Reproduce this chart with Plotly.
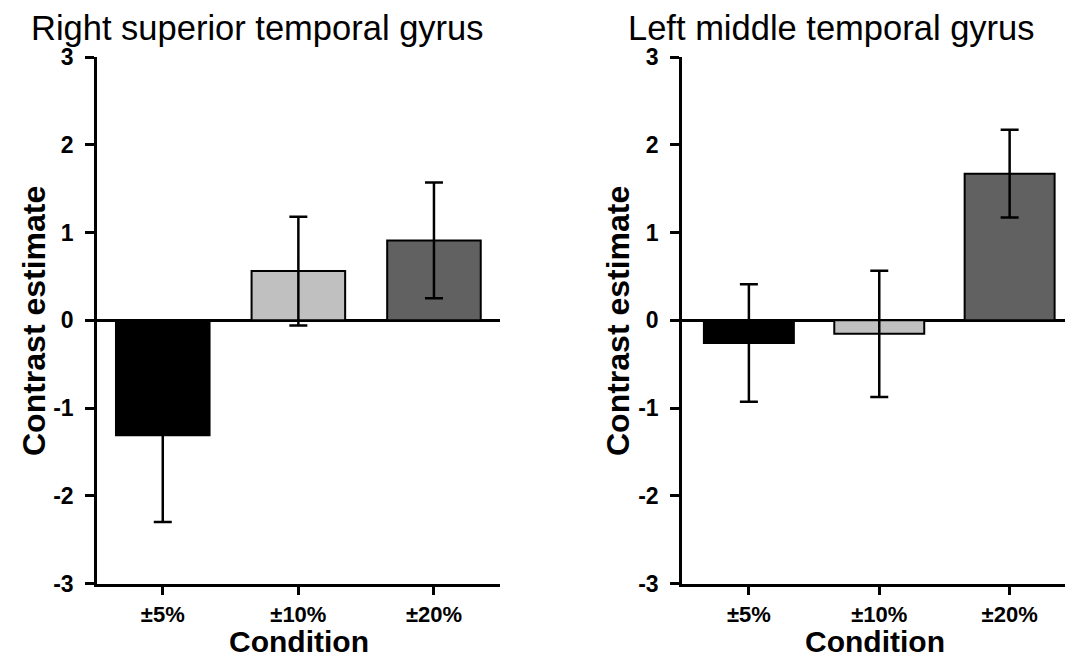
import plotly.graph_objects as go

categories = ["±5%", "±10%", "±20%"]
rstg_means = [-1.31, 0.56, 0.91]
rstg_err = [0.99, 0.62, 0.66]
lmtg_means = [-0.26, -0.155, 1.67]
lmtg_err = [0.67, 0.72, 0.50]
bar_colors = ["#000000", "#c0c0c0", "#616161"]
panel_titles = ["Right superior temporal gyrus", "Left middle temporal gyrus"]
y_ticks = [-3, -2, -1, 0, 1, 2, 3]
y_tick_text = ["-3", "-2", "-1", "0", "1", "2", "3"]

OFF = 8  # page body margin
W, H = 1073 - OFF, 659 - OFF
FONT = "Liberation Sans, Arial, sans-serif"


def px_x(p):
    return (p - OFF) / W


def px_y(p):
    return 1 - (p - OFF) / H


fig = go.Figure()
for i, (means, errs) in enumerate([(rstg_means, rstg_err), (lmtg_means, lmtg_err)]):
    suffix = "" if i == 0 else "2"
    fig.add_trace(go.Bar(
        x=categories, y=means, width=0.69,
        marker=dict(color=bar_colors, line=dict(color="black", width=2)),
        error_y=dict(type="data", array=errs, visible=True, color="black",
                     thickness=2.5, width=9),
        xaxis="x" + suffix, yaxis="y" + suffix, showlegend=False,
    ))

axis_common = dict(showline=True, linecolor="black", linewidth=2.5,
                   ticks="outside", tickwidth=2.5, tickcolor="black",
                   showgrid=False, automargin=False)
xtickfont = dict(family=FONT, size=22, color="black", weight="bold")
ytickfont = dict(family=FONT, size=23, color="black", weight="bold")

y_domain = [px_y(583.5), px_y(57)]
layout = dict(
    width=W, height=H, margin=dict(l=0, r=0, t=0, b=0),
    paper_bgcolor="white", plot_bgcolor="white",
    xaxis=dict(domain=[px_x(97), px_x(500)], type="category", ticklen=9,
               range=[-0.485, 2.487], anchor="y", ticklabelstandoff=0,
               tickfont=xtickfont, **axis_common),
    yaxis=dict(domain=y_domain, range=[-3, 3], anchor="x", ticklen=9,
               tickvals=y_ticks, ticktext=y_tick_text,
               zeroline=True, zerolinecolor="black", zerolinewidth=2.5,
               ticklabelstandoff=7, tickfont=ytickfont, **axis_common),
    xaxis2=dict(domain=[px_x(682), px_x(1067)], type="category", ticklen=9,
                range=[-0.513, 2.44], anchor="y2", ticklabelstandoff=0,
                tickfont=xtickfont, **axis_common),
    yaxis2=dict(domain=y_domain, range=[-3, 3], anchor="x2", ticklen=9,
                tickvals=y_ticks, ticktext=y_tick_text,
                zeroline=True, zerolinecolor="black", zerolinewidth=2.5,
                ticklabelstandoff=7, tickfont=ytickfont, **axis_common),
)
fig.update_layout(**layout)

annotations = []
for title, cx in zip(panel_titles, [257.5, 831.5]):
    annotations.append(dict(text=title, x=px_x(cx), y=px_y(28), xref="paper", yref="paper",
                            xanchor="center", yanchor="middle", showarrow=False,
                            font=dict(family=FONT, size=34.5, color="black")))
for cx in [34, 618]:
    annotations.append(dict(text="<b>Contrast estimate</b>", x=px_x(cx), y=px_y(321),
                            xref="paper", yref="paper", xanchor="center", yanchor="middle",
                            textangle=-90, showarrow=False,
                            font=dict(family=FONT, size=32, color="black")))
for cx in [298.5, 874.5]:
    annotations.append(dict(text="<b>Condition</b>", x=px_x(cx), y=px_y(641),
                            xref="paper", yref="paper", xanchor="center", yanchor="middle",
                            showarrow=False,
                            font=dict(family=FONT, size=30, color="black")))
fig.update_layout(annotations=annotations)

fig.write_html("out.html")
